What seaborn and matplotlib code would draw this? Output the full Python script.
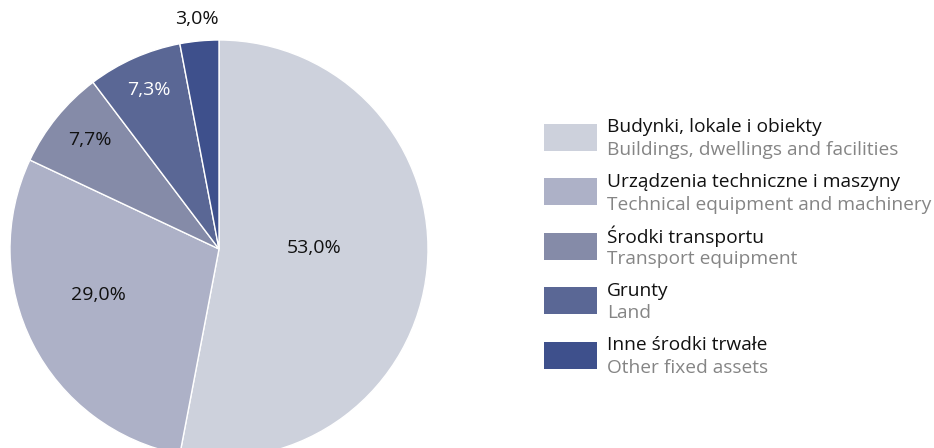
import numpy as np
import matplotlib
matplotlib.use("Agg")
import matplotlib.pyplot as plt
from matplotlib.patches import Rectangle
import seaborn as sns

sns.set_theme(style="white")
plt.rcParams['font.family'] = ['Open Sans', 'DejaVu Sans']

# data
labels_pl = ["Budynki, lokale i obiekty", "Urządzenia techniczne i maszyny",
             "Środki transportu", "Grunty", "Inne środki trwałe"]
labels_en = ["Buildings, dwellings and facilities", "Technical equipment and machinery",
             "Transport equipment", "Land", "Other fixed assets"]
shares = [53.0, 29.0, 7.7, 7.3, 3.0]
colors = ["#cdd1dc", "#adb1c7", "#858ba8", "#5a6795", "#3e508c"]

# label placement: radius (fraction of pie radius), angle nudge (deg), text colour
label_r = [0.455, 0.62, 0.81, 0.83, 1.105]
label_dang = [6, -6, -1, 0, 0]
label_colors = ["#111111", "#111111", "#111111", "#ffffff", "#111111"]

W, H = 934, 448
fig = plt.figure(figsize=(W / 100, H / 100), dpi=100)

# pie axes: centre ~ (219, 249) px, radius ~209 px
cx, cy, r = 219, 249, 209
ax = fig.add_axes([(cx - r) / W, (H - cy - r) / H, 2 * r / W, 2 * r / H])
wedges, _ = ax.pie(shares, colors=colors, startangle=90, counterclock=False,
                   radius=1.0, wedgeprops=dict(edgecolor="white", linewidth=1.0))
ax.set_xlim(-1, 1)
ax.set_ylim(-1, 1)
ax.set_aspect("equal")
ax.axis("off")

for w, val, rr, da, tc in zip(wedges, shares, label_r, label_dang, label_colors):
    ang = np.deg2rad((w.theta1 + w.theta2) / 2 + da)
    ax.text(rr * np.cos(ang), rr * np.sin(ang), f"{val:.1f}".replace(".", ",") + "%",
            ha="center", va="center", fontsize=14, color=tc, clip_on=False)

# legend drawn manually in pixel coordinates
lax = fig.add_axes([0, 0, 1, 1], facecolor="none")
lax.set_xlim(0, W)
lax.set_ylim(H, 0)
lax.axis("off")
y0, step = 137.5, 54.5
for i, (pl, en, c) in enumerate(zip(labels_pl, labels_en, colors)):
    yc = y0 + i * step
    lax.add_patch(Rectangle((544, yc - 13.5), 53, 27, facecolor=c, edgecolor="none"))
    lax.text(607, yc - 10, pl, ha="left", va="center", fontsize=13.8, color="#111111")
    lax.text(607, yc + 12.5, en, ha="left", va="center", fontsize=13.8, color="#858585")

fig.savefig("out.png", dpi=100)
